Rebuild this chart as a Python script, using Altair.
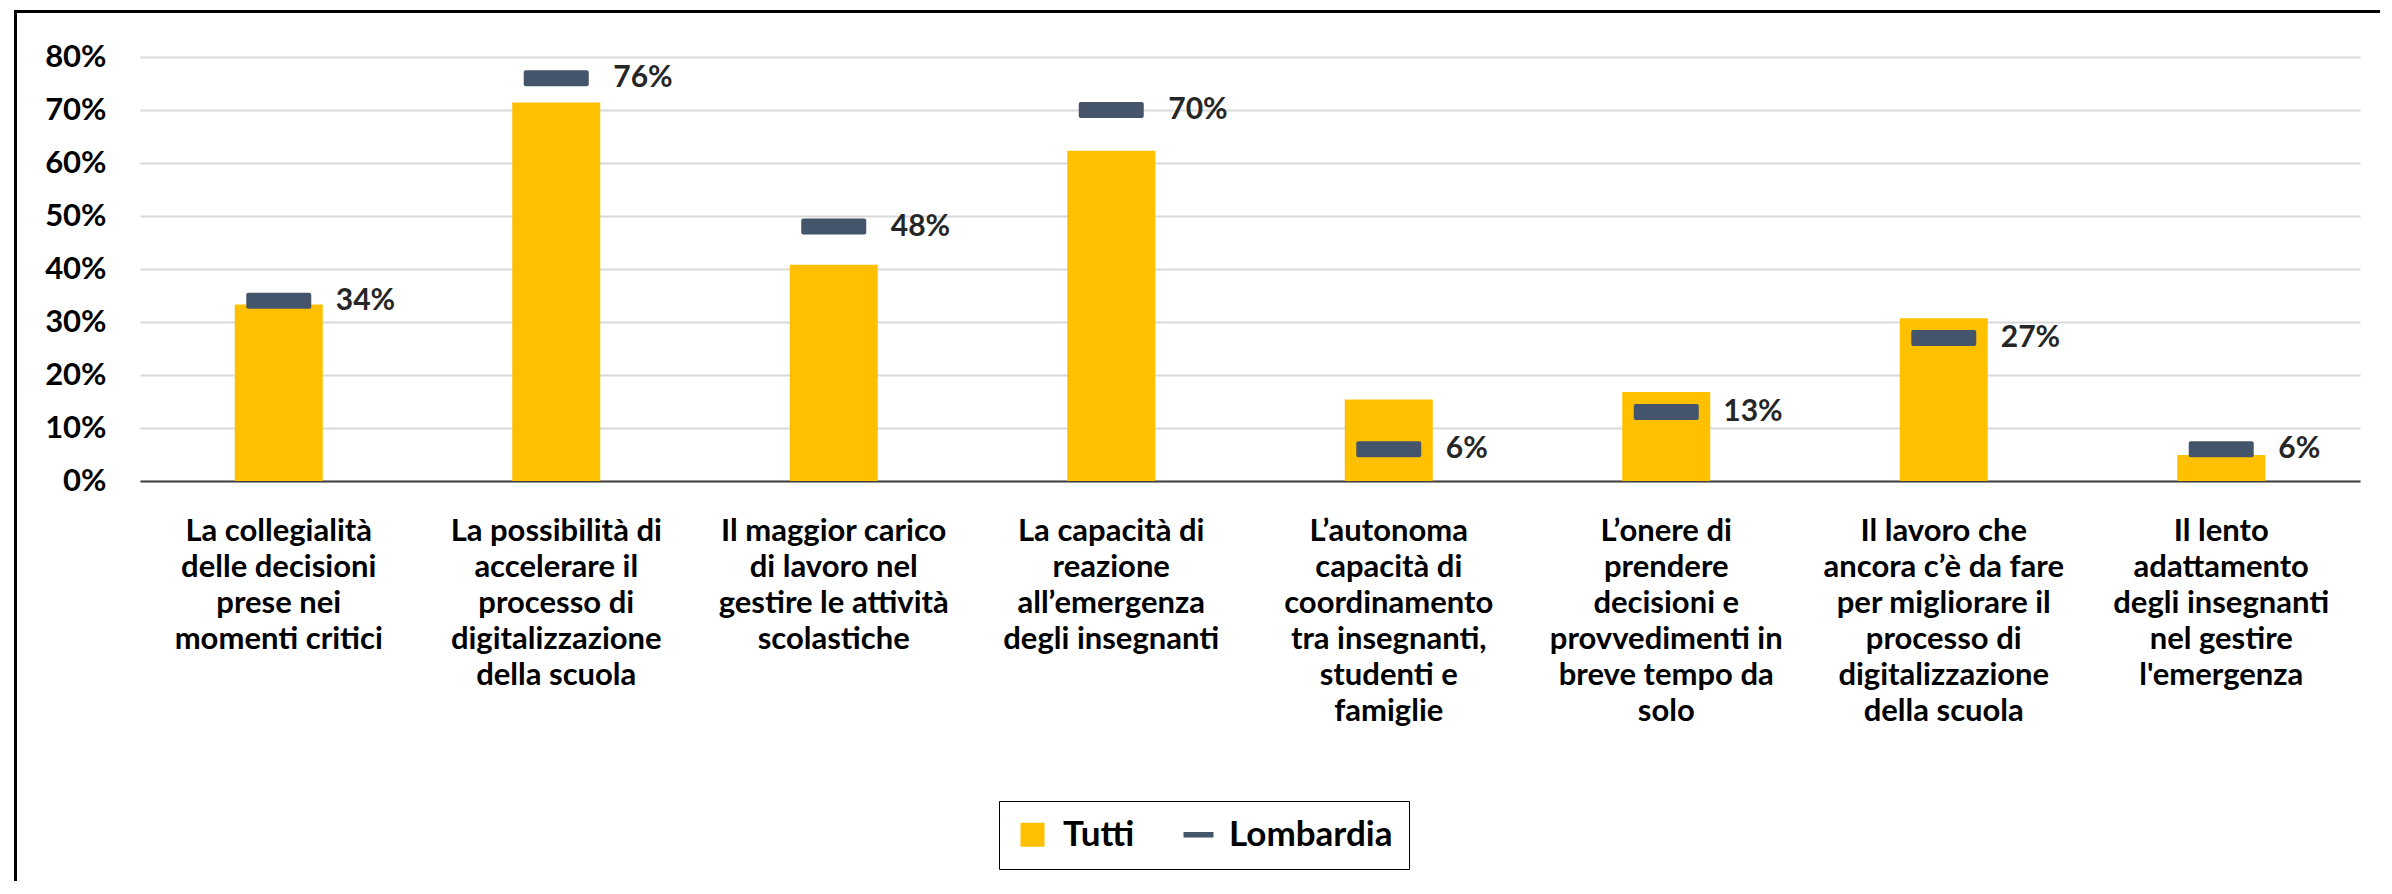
import altair as alt
import pandas as pd

categorie = [
    "La collegialità|delle decisioni|prese nei|momenti critici",
    "La possibilità di|accelerare il|processo di|digitalizzazione|della scuola",
    "Il maggior carico|di lavoro nel|gestire le attività|scolastiche",
    "La capacità di|reazione|all’emergenza|degli insegnanti",
    "L’autonoma|capacità di|coordinamento|tra insegnanti,|studenti e|famiglie",
    "L’onere di|prendere|decisioni e|provvedimenti in|breve tempo da|solo",
    "Il lavoro che|ancora c’è da fare|per migliorare il|processo di|digitalizzazione|della scuola",
    "Il lento|adattamento|degli insegnanti|nel gestire|l'emergenza",
]
tutti = [33.3, 71.4, 40.8, 62.3, 15.4, 16.8, 30.7, 4.9]
lombardia = [34, 76, 48, 70, 6, 13, 27, 6]
serie = ["Tutti", "Lombardia"]
colori = ["#FFC000", "#44546A"]

FONT = "Lato"

df = pd.DataFrame({
    "cat": categorie,
    "tutti": [v / 100 for v in tutti],
    "lomb": [v / 100 for v in lombardia],
})
df_leg = pd.DataFrame({
    "cat": categorie[:2],
    "val": [v / 100 for v in tutti[:2]],
    "serie": serie,
})

x_enc = alt.X(
    "cat:N", sort=categorie, title=None,
    scale=alt.Scale(paddingInner=0, paddingOuter=0),
    axis=alt.Axis(
        labelAngle=0, labelExpr="split(datum.label, '|')",
        labelLineHeight=36, labelBaseline="top", labelPadding=35,
        labelFont=FONT, labelFontSize=31, labelFontWeight="bold", labelColor="#000000",
        labelOverlap=False, labelBound=False, labelFlush=False, labelLimit=400,
        ticks=False, tickSize=0, domainColor="#404040", domainWidth=2, grid=False,
    ),
)
y_scale = alt.Scale(domain=[0, 0.8], nice=False)
y_axis = alt.Axis(
    values=[0, 0.1, 0.2, 0.3, 0.4, 0.5, 0.6, 0.7, 0.8], format=".0%",
    labelFont=FONT, labelFontSize=31, labelFontWeight="bold", labelColor="#000000",
    labelPadding=34, domain=False, ticks=False, tickSize=0,
    grid=True, gridColor="#D9D9D9", gridWidth=2,
)

base = alt.Chart(df)

bars = base.mark_bar(size=88, color="#FFC000").encode(
    x=x_enc,
    y=alt.Y("tutti:Q", scale=y_scale, axis=y_axis, title=None),
)

ticks = base.mark_tick(thickness=16, size=65, cornerRadius=2, color="#44546A", opacity=1).encode(
    x=alt.X("cat:N", sort=categorie),
    y=alt.Y("lomb:Q", scale=y_scale),
)

labels = base.mark_text(
    align="left", baseline="middle", dx=57, font=FONT, fontSize=30,
    fontWeight="bold", color="#262626",
).encode(
    x=alt.X("cat:N", sort=categorie),
    y=alt.Y("lomb:Q", scale=y_scale),
    text=alt.Text("lomb:Q", format=".0%"),
)

leg = alt.Legend(
    title=None, orient="none", legendX=859, legendY=744, direction="horizontal",
    labelFont=FONT, labelFontSize=35, labelFontWeight="bold", labelColor="#000000",
    labelLimit=600, symbolSize=576, symbolStrokeWidth=0, labelOffset=13, columnPadding=46,
    padding=16, strokeColor="#000000", symbolOpacity=1,
)

legend_layer = alt.Chart(df_leg).mark_point(filled=True, opacity=0).encode(
    x=alt.X("cat:N", sort=categorie),
    y=alt.Y("val:Q", scale=y_scale),
    color=alt.Color("serie:N", scale=alt.Scale(domain=serie, range=colori), legend=leg),
    shape=alt.Shape(
        "serie:N",
        scale=alt.Scale(domain=serie, range=["square", "M-1.25,-0.23H1.25V0.23H-1.25Z"]),
        legend=leg,
    ),
)

frame_data = alt.Data(values=[{"k": 1}])
frame_top = alt.Chart(frame_data).mark_rule(color="#000000", strokeWidth=3).encode(
    x=alt.value(-126), x2=alt.value(2260), y=alt.value(-45.5),
)
frame_left = alt.Chart(frame_data).mark_rule(color="#000000", strokeWidth=3).encode(
    x=alt.value(-124.5), y=alt.value(-47), y2=alt.value(840),
)

chart = alt.layer(bars, ticks, labels, legend_layer, frame_top, frame_left).properties(
    width=2220, height=424,
    autosize=alt.AutoSizeParams(type="none"),
    padding={"left": 132, "top": 49, "right": 20, "bottom": 400},
    background="white",
).configure_view(stroke=None)

chart.save("out.html", embed_options={"renderer": "svg", "actions": False})
